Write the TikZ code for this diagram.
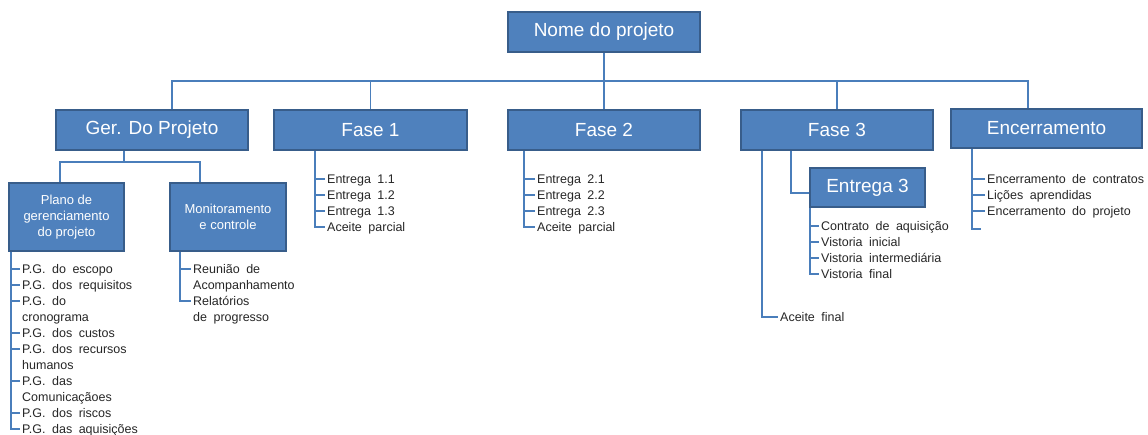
\documentclass[tikz,border=0pt]{standalone}
\usepackage{fontspec}
\setmainfont{Liberation Sans}
\usetikzlibrary{calc}
\definecolor{boxfill}{HTML}{4F81BD}
\definecolor{boxline}{HTML}{385D8A}
\definecolor{connc}{HTML}{4A7EBB}
\newcommand{\wsp}{\spaceskip=6.5pt\relax}
\newcommand{\tk}[2]{\draw[conn] let \p1=(#1), \p2=(#2.north west) in (\x1,\y2-4.5pt) -- (\x2-2pt,\y2-4.5pt);}
\newcommand{\tkend}[2]{\draw[conn] let \p1=(#1), \p2=(#2.north west) in (\p1) -- (\x1,\y2-4.5pt) -- (\x2-2pt,\y2-4.5pt);}
\begin{document}
\begin{tikzpicture}[x=1pt,y=-1pt,
  box/.style={draw=boxline, fill=boxfill, line width=1.8pt, text=white, inner sep=0pt, align=center},
  big/.style={box, minimum width=192pt, minimum height=40pt, font=\fontsize{19}{22}\selectfont},
  mid/.style={box, font=\fontsize{13}{16}\selectfont},
  item/.style={anchor=north west, inner sep=0pt, align=left, text=black!85,
    font=\fontsize{12.5}{16}\selectfont, execute at begin node=\wsp},
  conn/.style={draw=connc, line width=1.7pt}]
\useasboundingbox (0,0) rectangle (1148,434);

% boxes
\node[big] (top) at (604,32) {Nome do projeto};
\node[big] (ger) at (152,130) {Ger. Do Projeto};
\node[big, minimum width=193pt] (f1) at (370.5,130) {Fase 1};
\node[big] (f2) at (604,130) {Fase 2};
\node[big] (f3) at (837,130) {Fase 3};
\node[big, minimum width=191pt, minimum height=39pt] (enc) at (1046.5,128.5) {Encerramento};
\node[mid, minimum width=115pt, minimum height=68pt] (plano) at (66.5,217) {Plano de\\gerenciamento\\do projeto};
\node[mid, minimum width=116pt, minimum height=68pt] (mon) at (228,217) {Monitoramento\\e controle};
\node[big, minimum width=115pt, minimum height=39pt] (e3) at (867.5,187.5) {Entrega 3};

% top-level connectors
\coordinate (bus) at (0,81);
\coordinate (encdrop) at ([xshift=-18.5pt]enc.north);
\draw[conn] (top.south) -- (f2.north);
\draw[conn] ([xshift=20pt]ger.north) |- (encdrop |- bus) -- (encdrop);
\draw[conn] (f1.north) -- (f1.north |- bus);
\draw[conn] (f3.north) -- (f3.north |- bus);

% Ger -> level 2
\coordinate (g2) at ([xshift=-28pt]ger.south);
\coordinate (h2) at (0,162);
\coordinate (mondrop) at ([xshift=-28pt]mon.north);
\draw[conn] (g2) -- (g2 |- h2);
\draw[conn] ([xshift=-6.5pt]plano.north) |- (mondrop |- h2) -- (mondrop);

% Plano list
\coordinate (pv) at ([xshift=3pt]plano.south west);
\node[item] (p1) at (22,264.5) {P.G. do escopo};
\node[item] (p2) at (22,280.5) {P.G. dos requisitos};
\node[item] (p3) at (22,296.5) {P.G. do\\cronograma};
\node[item] (p4) at (22,328.5) {P.G. dos custos};
\node[item] (p5) at (22,344.5) {P.G. dos recursos\\humanos};
\node[item] (p6) at (22,376.5) {P.G. das\\Comunicaçãoes};
\node[item] (p7) at (22,408.5) {P.G. dos riscos};
\node[item] (p8) at (22,424.5) {P.G. das aquisições};
\tkend{pv}{p8}
\tk{pv}{p1}\tk{pv}{p2}\tk{pv}{p3}\tk{pv}{p4}\tk{pv}{p5}\tk{pv}{p6}\tk{pv}{p7}

% Monitoramento list
\coordinate (mv) at ([xshift=11pt]mon.south west);
\node[item] (m1) at (193,264.5) {Reunião de\\Acompanhamento};
\node[item] (m2) at (193,296.5) {Relatórios\\de progresso};
\tkend{mv}{m2}
\tk{mv}{m1}

% Fase 1 list
\coordinate (fv1) at ([xshift=-55.5pt]f1.south);
\node[item] (a1) at (327,174.5) {Entrega 1.1};
\node[item] (a2) at (327,190.5) {Entrega 1.2};
\node[item] (a3) at (327,206.5) {Entrega 1.3};
\node[item] (a4) at (327,222.5) {Aceite parcial};
\tkend{fv1}{a4}
\tk{fv1}{a1}\tk{fv1}{a2}\tk{fv1}{a3}

% Fase 2 list
\coordinate (fv2) at ([xshift=-80pt]f2.south);
\node[item] (b1) at (537,174.5) {Entrega 2.1};
\node[item] (b2) at (537,190.5) {Entrega 2.2};
\node[item] (b3) at (537,206.5) {Entrega 2.3};
\node[item] (b4) at (537,222.5) {Aceite parcial};
\tkend{fv2}{b4}
\tk{fv2}{b1}\tk{fv2}{b2}\tk{fv2}{b3}

% Fase 3
\coordinate (fv3) at ([xshift=-75pt]f3.south);
\node[item] (af) at (780,312.5) {Aceite final};
\tkend{fv3}{af}
\draw[conn] ([xshift=-46pt]f3.south) |- ([yshift=-5.5pt]e3.west);

% Entrega 3 list
\coordinate (ev) at ([xshift=1pt]e3.south west);
\node[item] (c1) at (821,221.5) {Contrato de aquisição};
\node[item] (c2) at (821,237.5) {Vistoria inicial};
\node[item] (c3) at (821,253.5) {Vistoria intermediária};
\node[item] (c4) at (821,269.5) {Vistoria final};
\tkend{ev}{c4}
\tk{ev}{c1}\tk{ev}{c2}\tk{ev}{c3}

% Encerramento list
\coordinate (ecv) at ([xshift=22pt]enc.south west);
\coordinate (endc) at (981,229);
\node[item] (d1) at (987,174.5) {Encerramento de contratos};
\node[item] (d2) at (987,190.5) {Lições aprendidas};
\node[item] (d3) at (987,206.5) {Encerramento do projeto};
\draw[conn] (ecv) |- (endc);
\tk{ecv}{d1}\tk{ecv}{d2}\tk{ecv}{d3}
\end{tikzpicture}
\end{document}
